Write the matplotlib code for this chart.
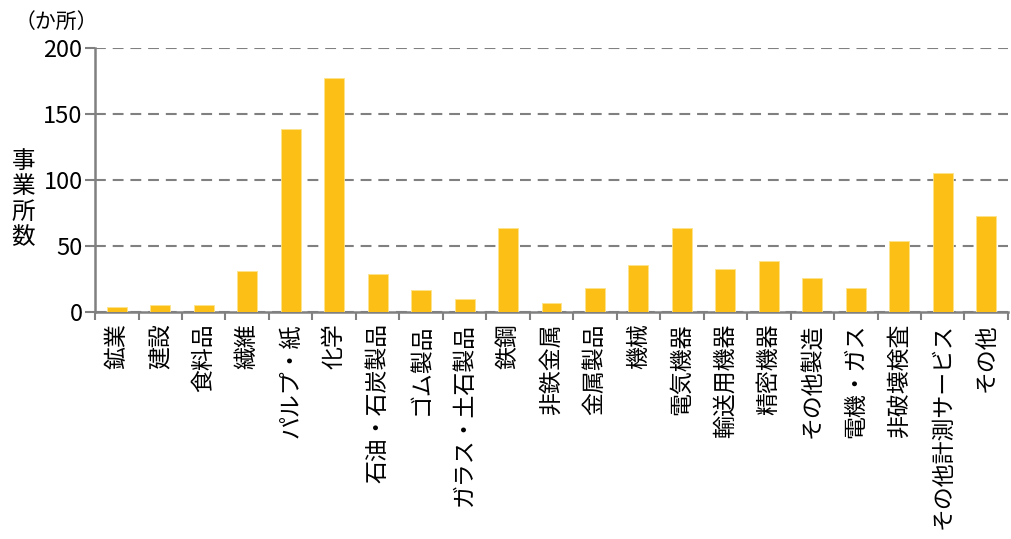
import matplotlib
matplotlib.use('Agg')
import matplotlib.pyplot as plt
import numpy as np

plt.rcParams['font.family'] = ['Noto Sans CJK JP', 'DejaVu Sans']

# データ
categories = ['鉱業', '建設', '食料品', '繊維', 'パルプ・紙', '化学', '石油・石炭製品',
              'ゴム製品', 'ガラス・土石製品', '鉄鋼', '非鉄金属', '金属製品', '機械',
              '電気機器', '輸送用機器', '精密機器', 'その他製造', '電機・ガス',
              '非破壊検査', 'その他計測サービス', 'その他']
values = [4, 5, 5, 31, 139, 177, 29, 17, 10, 64, 7, 18, 36, 64, 33, 39, 26, 18, 54, 105, 73]
y_ticks = [0, 50, 100, 150, 200]

bar_color = '#FBBF16'
axis_color = '#808080'

fig = plt.figure(figsize=(10.11, 5.39), dpi=100, facecolor='white')
ax = fig.add_axes([0.094, 0.421, 0.903, 0.49])

x = np.arange(len(categories))
ax.bar(x, values, width=0.46, color=bar_color, edgecolor='#FDE38A', linewidth=0.6, zorder=3)

ax.set_xlim(-0.5, len(categories) - 0.5)
ax.set_ylim(0, 200)
ax.set_yticks(y_ticks)
ax.yaxis.grid(True, linestyle=(0, (5.2, 3.3)), color=axis_color, linewidth=1.5, zorder=0)
ax.set_axisbelow(True)

# 枠線
for s in ['top', 'right']:
    ax.spines[s].set_visible(False)
for s in ['left', 'bottom']:
    ax.spines[s].set_color(axis_color)
    ax.spines[s].set_linewidth(1.8)

# x軸: 目盛りは区切り位置、ラベルは中央
ax.set_xticks(x)
ax.set_xticklabels(categories, rotation=90, fontsize=16.5, va='top', ha='center')
ax.set_xticks(np.arange(-0.5, len(categories)), minor=True)
ax.tick_params(axis='x', which='major', length=0, pad=8)
ax.tick_params(axis='x', which='minor', length=6, width=1.5, color=axis_color, direction='out')
ax.tick_params(axis='y', length=7, width=1.5, color=axis_color, labelsize=17, pad=2)

# 軸ラベル
fig.text(0.023, 0.63, '事\n業\n所\n数', fontsize=17, ha='center', va='center', linespacing=1.12)
fig.text(0.056, 0.96, '（か所）', fontsize=15, ha='center', va='center')

plt.savefig('out.png', dpi=100, facecolor='white')
